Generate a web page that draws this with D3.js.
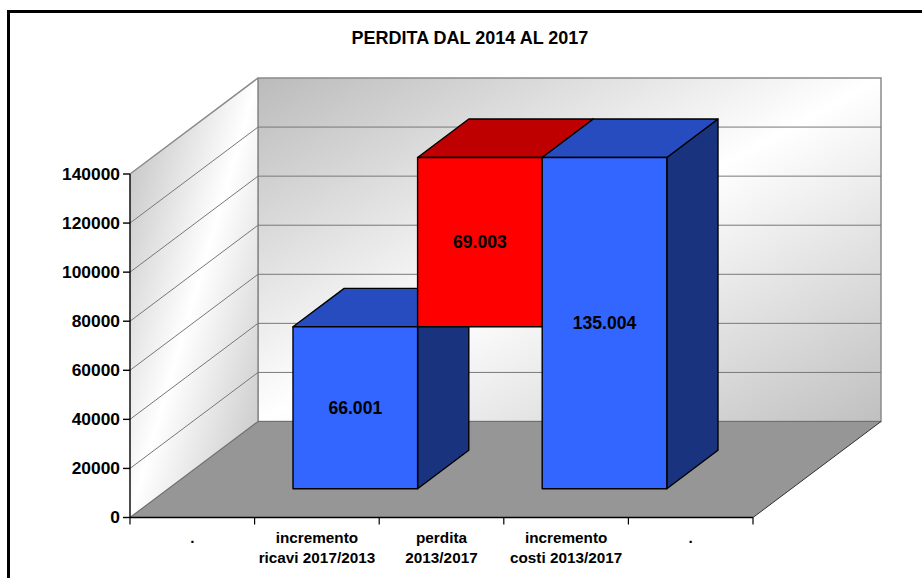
<!DOCTYPE html>
<html>
<head>
<meta charset="utf-8">
<script src="https://cdnjs.cloudflare.com/ajax/libs/d3/7.8.5/d3.min.js"></script>
<style>
html,body{margin:0;padding:0;background:#fff;overflow:hidden}
svg{display:block}
text{font-family:"Liberation Sans",Arial,sans-serif;font-weight:bold;fill:#000}
</style>
</head>
<body>
<svg id="c" width="922" height="578"></svg>
<script>
const chartTitle = "PERDITA DAL 2014 AL 2017";
const categories = [".", "incremento\nricavi 2017/2013", "perdita\n2013/2017", "incremento\ncosti 2013/2017", "."];
const yTicks = [0, 20000, 40000, 60000, 80000, 100000, 120000, 140000];
const barCategories = [1, 2, 3];
const barBases = [0, 66001, 0];
const barValues = [66001, 69003, 135004];
const barLabels = ["66.001", "69.003", "135.004"];
const barKinds = ["blue", "red", "blue"];
const palette = {
  blue: {front: "#3366FF", top: "#264CBF", side: "#19337F"},
  red: {front: "#FF0000", top: "#BF0000", side: "#7F0000"}
};

const svg = d3.select("#c");
const defs = svg.append("defs");

const x = d3.scaleBand().domain(d3.range(categories.length)).range([130, 753]).paddingInner(0).paddingOuter(0);
const y = d3.scaleLinear().domain([0, 140000]).range([517.5, 174]);
const depthX = d3.scaleLinear().domain([0, 1]).range([0, 128]);
const depthY = d3.scaleLinear().domain([0, 1]).range([0, -96]);
const P = (px, v, d) => [px + depthX(d), y(v) + depthY(d)];
const poly = pts => "M" + pts.map(p => p.join(",")).join("L") + "Z";
const xL = x.range()[0], xR = x.range()[1];
const yMin = 0, yMax = 140000;

// outer frame
svg.append("path").attr("d", "M8.5,578V11.5H922").attr("fill", "none").attr("stroke", "#000").attr("stroke-width", 3);

svg.append("text").attr("x", 470).attr("y", 43.5).attr("text-anchor", "middle").attr("font-size", 18).text(chartTitle);

function grad(id, stops) {
  const g = defs.append("linearGradient").attr("id", id)
    .attr("x1", 0).attr("y1", 0).attr("x2", 1).attr("y2", 1);
  stops.forEach(s => g.append("stop").attr("offset", s[0]).attr("stop-color", s[1]));
}
grad("wallBack", [[0, "#bbbbbb"], [0.5, "#ffffff"], [1, "#c0c0c0"]]);
grad("wallSide", [[0, "#bbbbbb"], [0.5, "#ffffff"], [1, "#c0c0c0"]]);

const wallStroke = "#8a8a8a";
// back wall
svg.append("path").attr("d", poly([P(xL, yMin, 1), P(xR, yMin, 1), P(xR, yMax, 1), P(xL, yMax, 1)]))
  .attr("fill", "url(#wallBack)").attr("stroke", wallStroke).attr("stroke-width", 1.5);
// side wall
svg.append("path").attr("d", poly([P(xL, yMin, 0), P(xL, yMin, 1), P(xL, yMax, 1), P(xL, yMax, 0)]))
  .attr("fill", "url(#wallSide)").attr("stroke", "none");
svg.append("path").attr("d", "M" + P(xL, yMax, 0).join(",") + "L" + P(xL, yMax, 1).join(",") + "M" + P(xL, yMin, 1).join(",") + "L" + P(xL, yMax, 1).join(","))
  .attr("fill", "none").attr("stroke", wallStroke).attr("stroke-width", 1.5);
// gridlines
const gridTicks = yTicks.filter(t => t > yMin && t < yMax);
svg.append("g").selectAll("path").data(gridTicks).join("path")
  .attr("d", t => "M" + P(xL, t, 0).join(",") + "L" + P(xL, t, 1).join(",") + "L" + P(xR, t, 1).join(","))
  .attr("fill", "none").attr("stroke", "#787878").attr("stroke-width", 1);
// floor
svg.append("path").attr("d", poly([P(xL, yMin, 0), P(xR, yMin, 0), P(xR, yMin, 1), P(xL, yMin, 1)]))
  .attr("fill", "#969696");
svg.append("path").attr("d", "M" + P(xL, yMin, 0).join(",") + "L" + P(xL, yMin, 1).join(",") + "L" + P(xR, yMin, 1).join(","))
  .attr("fill", "none").attr("stroke", "#707070").attr("stroke-width", 1.2);
svg.append("path").attr("d", "M" + P(xR, yMin, 0).join(",") + "L" + P(xR, yMin, 1).join(","))
  .attr("fill", "none").attr("stroke", "#303030").attr("stroke-width", 1);

// bars
const dFront = 0.3, dBack = 0.7;
const bars = barCategories.map((c, i) => ({c, b: barBases[i], v: barValues[i], label: barLabels[i], col: palette[barKinds[i]]}));
const barG = svg.append("g").selectAll("g").data(bars).join("g")
  .attr("stroke", "#000").attr("stroke-width", 1.4).attr("stroke-linejoin", "round");
barG.append("path").attr("fill", d => d.col.side).attr("d", d => {
  const r = x(d.c) + x.bandwidth();
  return poly([P(r, d.b, dFront), P(r, d.b, dBack), P(r, d.b + d.v, dBack), P(r, d.b + d.v, dFront)]);
});
barG.append("path").attr("fill", d => d.col.top).attr("d", d => {
  const l = x(d.c), r = l + x.bandwidth(), t = d.b + d.v;
  return poly([P(l, t, dFront), P(r, t, dFront), P(r, t, dBack), P(l, t, dBack)]);
});
barG.append("path").attr("fill", d => d.col.front).attr("d", d => {
  const l = x(d.c), r = l + x.bandwidth();
  return poly([P(l, d.b, dFront), P(r, d.b, dFront), P(r, d.b + d.v, dFront), P(l, d.b + d.v, dFront)]);
});
svg.append("g").selectAll("text").data(bars).join("text")
  .attr("text-anchor", "middle").attr("font-size", 17.6)
  .attr("x", d => P(x(d.c) + x.bandwidth() / 2, 0, dFront)[0])
  .attr("y", d => P(0, d.b + d.v / 2, dFront)[1] + 6)
  .text(d => d.label);

// y axis
const yAxis = svg.append("g").attr("transform", `translate(${xL},0)`)
  .call(d3.axisLeft(y).tickValues(yTicks).tickFormat(d3.format("d")).tickSize(7).tickSizeOuter(0).tickPadding(3).offset(0));
yAxis.selectAll("path,line").attr("stroke", "#000").attr("stroke-width", 1.4);
yAxis.selectAll("text").attr("font-size", 17.4).attr("font-family", null);

// x axis
const edges = d3.range(categories.length + 1).map(i => i < categories.length ? x(i) : xR);
const bottom = y(0);
svg.append("line").attr("x1", xL).attr("x2", xR).attr("y1", bottom).attr("y2", bottom).attr("stroke", "#000").attr("stroke-width", 1.4);
svg.append("g").selectAll("line").data(edges).join("line")
  .attr("x1", d => d).attr("x2", d => d).attr("y1", bottom).attr("y2", bottom + 7)
  .attr("stroke", "#000").attr("stroke-width", 1.2);
const catText = svg.append("g").selectAll("text").data(categories).join("text")
  .attr("text-anchor", "middle").attr("font-size", 15.3)
  .attr("transform", (d, i) => `translate(${x(i) + x.bandwidth() / 2},${bottom + 25})`);
catText.selectAll("tspan").data(d => d.split("\n")).join("tspan")
  .attr("x", 0).attr("dy", (d, i) => i ? 20.5 : 0).text(d => d);
</script>
</body>
</html>
